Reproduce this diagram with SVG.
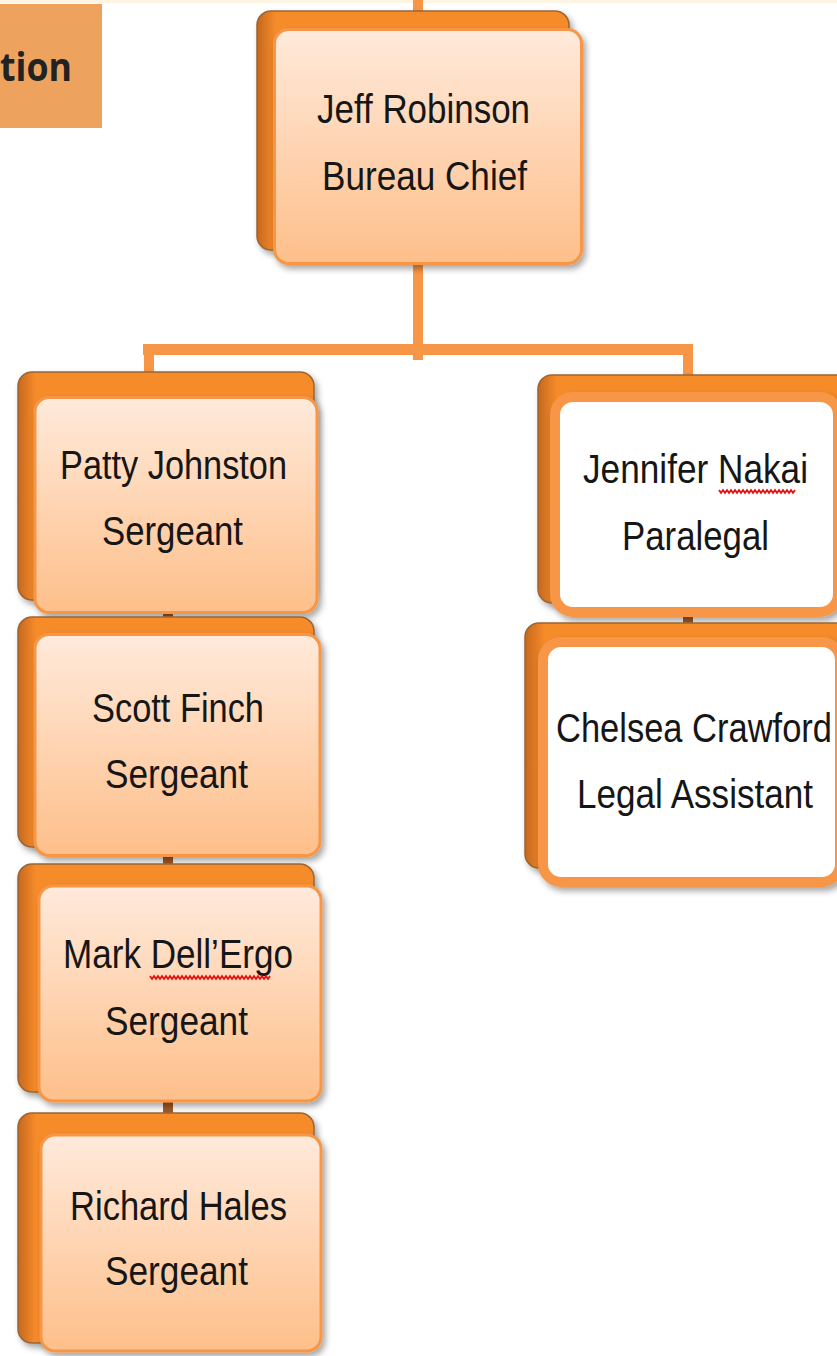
<svg xmlns="http://www.w3.org/2000/svg" width="837" height="1356" viewBox="0 0 837 1356">
<defs>
<linearGradient id="peachG" x1="0" y1="0" x2="0" y2="1">
<stop offset="0" stop-color="#FFEADB"/>
<stop offset="1" stop-color="#FEBF8A"/>
</linearGradient>
<linearGradient id="backG" x1="0" y1="0" x2="1" y2="0">
<stop offset="0" stop-color="#C5681E"/>
<stop offset="0.06" stop-color="#F68B2A"/>
<stop offset="1" stop-color="#F68B2A"/>
</linearGradient>
<filter id="sh" x="-10%" y="-10%" width="125%" height="125%">
<feDropShadow dx="3" dy="4" stdDeviation="3" flood-color="#000" flood-opacity="0.35"/>
</filter>
</defs>
<style>
.line{fill:#F79646}
.link{fill:#A45A22}
.back{fill:url(#backG);stroke:#9B6535;stroke-width:1.5;filter:url(#sh)}
.peach{fill:url(#peachG);stroke:#F79646;stroke-width:3;filter:url(#sh)}
.white{fill:#FFFFFF;stroke:#F79646;stroke-width:10;filter:url(#sh)}
.t{font-family:"Liberation Sans",Arial,sans-serif;font-size:41px;fill:#161616;text-anchor:middle}
.sq{fill:none;stroke:#E81010;stroke-width:1.8}
</style>
<rect x="0" y="0" width="837" height="3" fill="#FEF4E4"/>

<g id="title-fragment">
<rect x="0" y="4" width="102" height="124" fill="#EDA35E"/>
<text x="0" y="81" font-family="'Open Sans','Liberation Sans',sans-serif" font-weight="bold" font-size="40" fill="#222222" textLength="72" lengthAdjust="spacingAndGlyphs">tion</text>
</g>

<g id="connectors">
<rect class="line" x="413" y="0" width="10" height="14"/>
<rect class="line" x="413" y="260" width="10" height="100"/>
<rect class="line" x="143" y="344" width="550" height="11"/>
<rect class="line" x="144" y="344" width="10" height="46"/>
<rect class="line" x="683" y="344" width="10" height="40"/>
<rect class="link" x="163" y="600" width="10" height="530"/>
<rect class="link" x="683" y="600" width="10" height="30"/>
</g>

<g id="jeff">
<rect class="back" x="257" y="11" width="312" height="239" rx="14"/>
<rect class="peach" x="274.5" y="29.5" width="307" height="234" rx="14"/>
<text class="t" x="423.5" y="123" textLength="213" lengthAdjust="spacingAndGlyphs">Jeff Robinson</text>
<text class="t" x="424.5" y="190" textLength="205" lengthAdjust="spacingAndGlyphs">Bureau Chief</text>
</g>

<g id="patty">
<rect class="back" x="18" y="372" width="296" height="228" rx="14"/>
<rect class="peach" x="35" y="397.5" width="282" height="215" rx="14"/>
<text class="t" x="173.5" y="479" textLength="227" lengthAdjust="spacingAndGlyphs">Patty Johnston</text>
<text class="t" x="172.5" y="545" textLength="141" lengthAdjust="spacingAndGlyphs">Sergeant</text>
</g>

<g id="scott">
<rect class="back" x="18" y="617" width="296" height="230" rx="14"/>
<rect class="peach" x="35" y="634.5" width="285" height="221" rx="14"/>
<text class="t" x="178" y="722" textLength="172" lengthAdjust="spacingAndGlyphs">Scott Finch</text>
<text class="t" x="176.5" y="788" textLength="143" lengthAdjust="spacingAndGlyphs">Sergeant</text>
</g>

<g id="mark">
<rect class="back" x="18" y="864" width="296" height="228" rx="14"/>
<rect class="peach" x="39" y="886" width="282" height="215" rx="14"/>
<text class="t" x="178" y="968" textLength="230" lengthAdjust="spacingAndGlyphs">Mark Dell’Ergo</text>
<path class="sq" d="M150 976 l2 3 2 -3 2 3 2 -3 2 3 2 -3 2 3 2 -3 2 3 2 -3 2 3 2 -3 2 3 2 -3 2 3 2 -3 2 3 2 -3 2 3 2 -3 2 3 2 -3 2 3 2 -3 2 3 2 -3 2 3 2 -3 2 3 2 -3 2 3 2 -3 2 3 2 -3 2 3 2 -3 2 3 2 -3 2 3 2 -3 2 3 2 -3 2 3 2 -3 2 3 2 -3 2 3 2 -3 2 3 2 -3 2 3 2 -3 2 3 2 -3 2 3 2 -3 2 3 2 -3 2 3 2 -3"/>
<text class="t" x="176.5" y="1035" textLength="143" lengthAdjust="spacingAndGlyphs">Sergeant</text>
</g>

<g id="richard">
<rect class="back" x="18" y="1113" width="296" height="230" rx="14"/>
<rect class="peach" x="41" y="1135" width="280" height="216" rx="14"/>
<text class="t" x="178.5" y="1220" textLength="217" lengthAdjust="spacingAndGlyphs">Richard Hales</text>
<text class="t" x="176.5" y="1285" textLength="143" lengthAdjust="spacingAndGlyphs">Sergeant</text>
</g>

<g id="jennifer">
<rect class="back" x="538" y="375" width="320" height="228" rx="14"/>
<rect class="white" x="555" y="397" width="283" height="215" rx="18"/>
<text class="t" x="695.5" y="483" textLength="225" lengthAdjust="spacingAndGlyphs">Jennifer Nakai</text>
<path class="sq" d="M719 490 l2 3 2 -3 2 3 2 -3 2 3 2 -3 2 3 2 -3 2 3 2 -3 2 3 2 -3 2 3 2 -3 2 3 2 -3 2 3 2 -3 2 3 2 -3 2 3 2 -3 2 3 2 -3 2 3 2 -3 2 3 2 -3 2 3 2 -3 2 3 2 -3 2 3 2 -3 2 3 2 -3 2 3 2 -3"/>
<text class="t" x="695.5" y="550" textLength="147" lengthAdjust="spacingAndGlyphs">Paralegal</text>
</g>

<g id="chelsea">
<rect class="back" x="525" y="623" width="330" height="245" rx="14"/>
<rect class="white" x="543" y="642" width="297" height="240" rx="18"/>
<text class="t" x="694" y="742" textLength="276" lengthAdjust="spacingAndGlyphs">Chelsea Crawford</text>
<text class="t" x="695" y="808" textLength="236" lengthAdjust="spacingAndGlyphs">Legal Assistant</text>
</g>
</svg>
